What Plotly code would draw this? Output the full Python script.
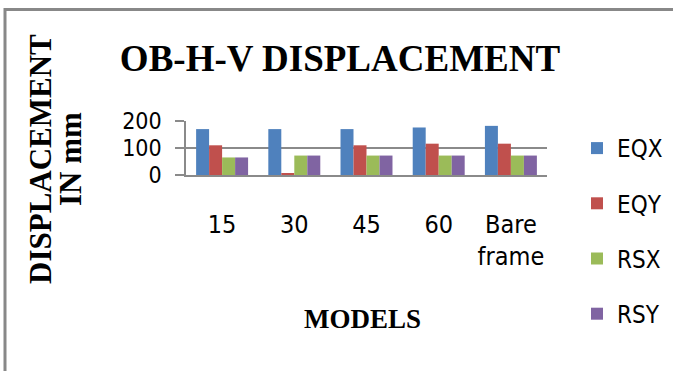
import plotly.graph_objects as go

# Lateral displacement of the OB-H-V models, in mm
models = ["15", "30", "45", "60", "Bare<br>frame"]
eqx = [170, 170, 170, 176, 182]
eqy = [110, 6, 110, 116, 116]
rsx = [65, 72, 72, 72, 72]
rsy = [65, 72, 72, 72, 72]

series_names = ["EQX", "EQY", "RSX", "RSY"]
series_values = [eqx, eqy, rsx, rsy]
series_colors = ["#4F81BD", "#C0504D", "#9BBB59", "#8064A2"]

W, H = 674, 372
# plot area in pixels
L, R, T, B = 186, 547, 121, 175


def px_x(p):
    return (p - L) / (R - L)


def px_y(p):
    return (B - p) / (B - T)


fig = go.Figure()
for name, vals, col in zip(series_names, series_values, series_colors):
    fig.add_trace(go.Bar(
        x=models, y=vals, name=name, legendgroup=name,
        marker=dict(color=col, line=dict(width=0)),
    ))

serif = "Liberation Serif, Times New Roman, serif"
narrow = "DejaVu Sans Condensed, Liberation Sans Narrow, Liberation Sans, sans-serif"
grey = "#8a8a8a"

fig.update_layout(
    width=W, height=H,
    margin=dict(l=L, r=W - R, t=T, b=H - B, autoexpand=False),
    paper_bgcolor="white", plot_bgcolor="white",
    barmode="group", bargap=0.28, bargroupgap=0,
    title=dict(
        text="<b>OB-H-V DISPLACEMENT</b>",
        font=dict(family=serif, size=37, color="black"),
        x=340 / W, xref="container", xanchor="center",
        y=1 - 58 / H, yref="container", yanchor="middle",
    ),
    legend=dict(
        orientation="v",
        x=px_x(577), xanchor="left", y=px_y(126), yanchor="top",
        font=dict(family=narrow, size=24, color="black"),
        tracegroupgap=21, bgcolor="rgba(0,0,0,0)",
        maxheight=360,
    ),
    showlegend=True,
)

fig.update_xaxes(
    showline=True, linecolor=grey, linewidth=1.5,
    showgrid=False, ticks="",
    tickfont=dict(family=narrow, size=25, color="black"),
    ticklabelstandoff=26,
)
fig.update_yaxes(
    range=[0, 200], dtick=100, tick0=0,
    showgrid=True, gridcolor=grey, gridwidth=1.5,
    showline=True, linecolor=grey, linewidth=1.5,
    ticks="outside", ticklen=9, tickcolor=grey, tickwidth=1.5,
    zeroline=False,
    tickfont=dict(family=narrow, size=23, color="black"),
    ticklabelstandoff=9,
)

# axis titles
fig.add_annotation(
    text="<b>DISPLACEMENT</b>", textangle=-90, showarrow=False,
    xref="paper", yref="paper", x=px_x(40), y=px_y(159),
    xanchor="center", yanchor="middle",
    font=dict(family=serif, size=31, color="black"),
)
fig.add_annotation(
    text="<b>IN mm</b>", textangle=-90, showarrow=False,
    xref="paper", yref="paper", x=px_x(70), y=px_y(159),
    xanchor="center", yanchor="middle",
    font=dict(family=serif, size=31, color="black"),
)
fig.add_annotation(
    text="<b>MODELS</b>", showarrow=False,
    xref="paper", yref="paper", x=px_x(362), y=px_y(319),
    xanchor="center", yanchor="middle",
    font=dict(family=serif, size=27, color="black"),
)

# chart frame (top and left edges visible), kept inside the page
fig.add_shape(
    type="line", xref="paper", yref="paper",
    x0=px_x(4), x1=px_x(W - 1), y0=px_y(9.5), y1=px_y(9.5),
    line=dict(color="#888888", width=3),
)
fig.add_shape(
    type="line", xref="paper", yref="paper",
    x0=px_x(5), x1=px_x(5), y0=px_y(8), y1=px_y(H - 1),
    line=dict(color="#888888", width=3),
)

# page styling: no page margin/scrolling, and no legend scroll bar
page_js = (
    "document.documentElement.style.overflow='hidden';"
    "document.body.style.margin='0';"
    "document.body.style.overflow='hidden';"
    "var s=document.createElement('style');"
    "s.textContent='.legend .scrollbar{display:none !important;}';"
    "document.head.appendChild(s);"
)
fig.write_html("out.html", post_script=page_js)
